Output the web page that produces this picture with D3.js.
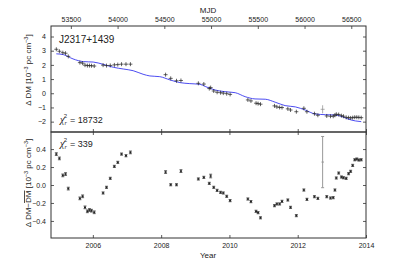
<!DOCTYPE html>
<html>
<head>
<meta charset="utf-8">
<script src="https://cdn.jsdelivr.net/npm/d3@7"></script>
<style>
  body { margin: 0; background: #fff; }
  text { font-family: "Liberation Sans", Arial, sans-serif; fill: #222; }
</style>
</head>
<body>
<svg id="chart" width="407" height="265"></svg>
<script>
// epochs (decimal year) of each DM measurement
var years = [2004.93, 2005.02, 2005.12, 2005.20, 2005.28, 2005.62, 2005.70, 2005.77, 2005.84, 2005.90,
             2005.96, 2006.04, 2006.30, 2006.40, 2006.51, 2006.63, 2006.73, 2006.84, 2006.97, 2007.10,
             2008.13, 2008.28, 2008.45, 2008.58, 2009.09, 2009.25, 2009.41, 2009.45, 2009.54, 2009.64,
             2009.74, 2009.82, 2009.92, 2010.02, 2010.54, 2010.63, 2010.78, 2010.84, 2010.91, 2011.32,
             2011.39, 2011.47, 2011.54, 2011.71, 2011.79, 2011.96, 2012.18, 2012.27, 2012.49, 2012.59,
             2012.73, 2012.85, 2012.96, 2013.04, 2013.09, 2013.13, 2013.20, 2013.28, 2013.34, 2013.42,
             2013.49, 2013.55, 2013.61, 2013.67, 2013.73, 2013.79, 2013.86];

// delta DM (10^-3 pc cm^-3), top panel
var dmValues = [3.10, 2.96, 2.86, 2.82, 2.60, 2.16, 2.12, 1.98, 1.95, 1.95,
                1.94, 1.92, 1.98, 1.95, 1.96, 2.00, 2.02, 2.05, 2.05, 2.05,
                1.31, 1.05, 0.88, 0.90, 0.70, 0.65, 0.33, 0.40, 0.16, 0.07,
                0.04, 0.01, -0.03, -0.08, -0.47, -0.54, -0.70, -0.73, -0.77, -0.89,
                -0.96, -1.00, -1.01, -1.10, -1.18, -1.30, -1.06, -1.30, -1.44, -1.55,
                -1.13, -1.60, -1.62, -1.62, -1.55, -1.48, -1.50, -1.58, -1.62, -1.70,
                -1.72, -1.74, -1.72, -1.69, -1.69, -1.70, -1.72];

// residuals delta DM - mean DM, bottom panel
var residuals = [0.344, 0.296, 0.107, 0.122, -0.040, -0.149, -0.126, -0.249, -0.293, -0.278,
                 -0.286, -0.304, -0.089, -0.026, 0.074, 0.207, 0.252, 0.344, 0.326, 0.363,
                 0.144, 0.003, 0.003, 0.155, 0.067, 0.085, 0.018, 0.100, -0.026, -0.060,
                 -0.082, -0.089, -0.126, -0.174, -0.156, -0.185, -0.293, -0.308, -0.365, -0.230,
                 -0.211, -0.211, -0.182, -0.167, -0.249, -0.341, -0.056, -0.160, -0.130, -0.149,
                 0.255, -0.130, -0.145, -0.141, -0.056, 0.078, 0.133, 0.089, 0.081, 0.074,
                 0.126, 0.152, 0.218, 0.281, 0.289, 0.278, 0.281];

var errors = [0.015, 0.015, 0.015, 0.015, 0.015, 0.015, 0.015, 0.015, 0.015, 0.015,
              0.015, 0.015, 0.012, 0.012, 0.012, 0.012, 0.012, 0.012, 0.012, 0.015,
              0.015, 0.012, 0.012, 0.015, 0.012, 0.012, 0.012, 0.02, 0.012, 0.012,
              0.012, 0.012, 0.012, 0.012, 0.012, 0.012, 0.012, 0.012, 0.012, 0.012,
              0.012, 0.012, 0.012, 0.012, 0.012, 0.012, 0.012, 0.012, 0.012, 0.012,
              0.285, 0.012, 0.012, 0.012, 0.012, 0.012, 0.012, 0.012, 0.012, 0.012,
              0.012, 0.012, 0.012, 0.012, 0.012, 0.012, 0.012];

// smooth DM model (blue curve)
var modelYears = [2004.93, 2005.14, 2005.42, 2005.72, 2006.01, 2006.30, 2006.60, 2006.89, 2007.18, 2007.47,
                  2007.67, 2007.96, 2008.26, 2008.55, 2008.84, 2009.14, 2009.29, 2009.58, 2009.87, 2010.17,
                  2010.46, 2010.75, 2011.05, 2011.34, 2011.63, 2011.93, 2012.22, 2012.51, 2012.81, 2013.10,
                  2013.30, 2013.49, 2013.69, 2013.86];
var modelDM = [2.78, 2.72, 2.42, 2.23, 2.20, 2.04, 1.83, 1.71, 1.59, 1.34,
               1.22, 1.17, 0.94, 0.75, 0.68, 0.63, 0.48, 0.23, 0.11, 0.04,
               -0.24, -0.40, -0.42, -0.63, -0.87, -0.96, -1.18, -1.46, -1.51, -1.53,
               -1.65, -1.83, -1.95, -2.0];

var mjdTicks = [53500, 54000, 54500, 55000, 55500, 56000, 56500];
var yearTicks = [2006, 2008, 2010, 2012, 2014];
var dmTicks = [-2, -1, 0, 1, 2, 3, 4];
var resTicks = [-0.4, -0.2, 0.0, 0.2, 0.4];

var svg = d3.select("#chart");
var left = 51, right = 366;
var topY0 = 26, midY = 132, botY1 = 238;

function yearToMjd(y) { return 51544 + (y - 2000) * 365.25; }

var x = d3.scaleLinear().domain([2004.774, 2014]).range([left, right]);
var xm = d3.scaleLinear().domain([yearToMjd(2004.774), yearToMjd(2014)]).range([left, right]);
var yTop = d3.scaleLinear().domain([-2.73, 4.74]).range([midY, topY0]);
var yBot = d3.scaleLinear().domain([-0.59, 0.59]).range([botY1, midY]);

var fmtMinus = function(s){ return String(s).replace("-", "\u2212"); };
var tl = 3;

// axes with inward ticks
function axes(g, yScale, yT, yFmt, y0, y1, topScale, topT, topLabels, bottomLabels) {
    g.append("g").attr("transform", "translate(" + left + ",0)")
        .call(d3.axisLeft(yScale).tickValues(yT).tickSizeInner(-tl).tickSizeOuter(0).tickPadding(5).tickFormat(yFmt));
    g.append("g").attr("transform", "translate(" + right + ",0)")
        .call(d3.axisRight(yScale).tickValues(yT).tickSizeInner(-tl).tickSizeOuter(0).tickFormat(""));
    g.append("g").attr("transform", "translate(0," + y0 + ")")
        .call(d3.axisTop(topScale).tickValues(topT).tickSizeInner(-tl).tickSizeOuter(0).tickPadding(4)
            .tickFormat(topLabels ? d3.format("d") : ""));
    g.append("g").attr("transform", "translate(0," + y1 + ")")
        .call(d3.axisBottom(x).tickValues(yearTicks).tickSizeInner(-tl).tickSizeOuter(0).tickPadding(5)
            .tickFormat(bottomLabels ? d3.format("d") : ""));
    g.selectAll(".domain").remove();
    g.selectAll(".tick line").attr("stroke", "#333").attr("stroke-width", 0.8);
    g.selectAll(".tick text").attr("font-size", 7).attr("fill", "#222")
        .attr("font-family", "Liberation Sans, Arial, sans-serif");
    g.append("rect").attr("x", left).attr("y", y0).attr("width", right - left).attr("height", y1 - y0)
        .attr("fill", "none").attr("stroke", "#333").attr("stroke-width", 1);
}

var gTop = svg.append("g");
axes(gTop, yTop, dmTicks, fmtMinus, topY0, midY, xm, mjdTicks, true, false);
var gBot = svg.append("g");
axes(gBot, yBot, resTicks, function(d){ return fmtMinus(d3.format(".1f")(d)); }, midY, botY1, x, yearTicks, false, true);

var idx = d3.range(years.length);

// top panel: model curve and points
var line = d3.line().curve(d3.curveMonotoneX)
    .x(function(d, i){ return x(modelYears[i]); })
    .y(function(d){ return yTop(d); });
gTop.append("path").datum(modelDM).attr("d", line)
    .attr("fill", "none").attr("stroke", "#3a3af0").attr("stroke-width", 1).attr("stroke-opacity", 0.9);

var ptTop = gTop.selectAll("g.pt").data(idx).enter().append("g").attr("class", "pt")
    .attr("stroke", function(i){ return errors[i] > 0.1 ? "#888" : "#222"; })
    .attr("stroke-width", 0.7);
ptTop.append("line")
    .attr("x1", function(i){ return x(years[i]); }).attr("x2", function(i){ return x(years[i]); })
    .attr("y1", function(i){ return Math.min(yTop(dmValues[i] + errors[i]), yTop(dmValues[i]) - 2); })
    .attr("y2", function(i){ return Math.max(yTop(dmValues[i] - errors[i]), yTop(dmValues[i]) + 2); });
ptTop.append("line")
    .attr("x1", function(i){ return x(years[i]) - 2; }).attr("x2", function(i){ return x(years[i]) + 2; })
    .attr("y1", function(i){ return yTop(dmValues[i]); }).attr("y2", function(i){ return yTop(dmValues[i]); });

// bottom panel: residual points with error bars
var ptBot = gBot.selectAll("g.pt").data(idx).enter().append("g").attr("class", "pt")
    .attr("stroke", function(i){ return errors[i] > 0.1 ? "#999" : "#222"; })
    .attr("stroke-width", function(i){ return errors[i] > 0.1 ? 1 : 0.7; });
ptBot.append("line")
    .attr("x1", function(i){ return x(years[i]); }).attr("x2", function(i){ return x(years[i]); })
    .attr("y1", function(i){ return yBot(residuals[i] + errors[i]); })
    .attr("y2", function(i){ return yBot(residuals[i] - errors[i]); });
ptBot.selectAll("line.cap").data(function(i){ return [[i, 1], [i, -1]]; }).enter().append("line")
    .attr("class", "cap")
    .attr("x1", function(d){ return x(years[d[0]]) - 1.5; }).attr("x2", function(d){ return x(years[d[0]]) + 1.5; })
    .attr("y1", function(d){ return yBot(residuals[d[0]] + d[1] * errors[d[0]]); })
    .attr("y2", function(d){ return yBot(residuals[d[0]] + d[1] * errors[d[0]]); });
ptBot.append("line")
    .attr("x1", function(i){ return x(years[i]) - 1; }).attr("x2", function(i){ return x(years[i]) + 1; })
    .attr("y1", function(i){ return yBot(residuals[i]); }).attr("y2", function(i){ return yBot(residuals[i]); })
    .attr("stroke-width", 1.5);

// labels
svg.append("text").attr("x", 208).attr("y", 13).attr("text-anchor", "middle").attr("font-size", 8).text("MJD");
svg.append("text").attr("x", 208).attr("y", 258).attr("text-anchor", "middle").attr("font-size", 8).text("Year");
svg.append("text").attr("x", 59).attr("y", 43).attr("font-size", 10).text("J2317+1439");

function chi(yb, value) {
    var t = svg.append("text").attr("x", 60).attr("y", yb).attr("font-size", 9);
    t.append("tspan").attr("font-family", "Liberation Serif, serif").attr("font-style", "italic").attr("font-size", 10).text("\u03c7");
    t.append("tspan").attr("font-family", "Liberation Serif, serif").attr("font-style", "italic").attr("font-size", 6).attr("dy", 2).text("r");
    t.append("tspan").attr("font-size", 6).attr("dx", -3).attr("dy", -7).text("2");
    t.append("tspan").attr("dx", 3).attr("dy", 5).text("= " + value);
}
chi(123, "18732");
chi(147, "339");

function ylab(cy, parts) {
    var t = svg.append("text").attr("transform", "translate(31," + cy + ") rotate(-90)")
        .attr("text-anchor", "middle").attr("font-size", 8);
    parts.forEach(function(p){
        var s = t.append("tspan").text(p[0]);
        if (p[1] === "sup") s.attr("font-size", 5.5).attr("dy", -3);
        if (p[1] === "down") s.attr("dy", 3);
        if (p[1] === "over") s.attr("text-decoration", "overline");
    });
}
ylab(70, [["\u0394 DM [10"], ["\u22123", "sup"], [" pc cm", "down"], ["\u22123", "sup"], ["]", "down"]]);
ylab(183, [["\u0394 DM\u2212"], ["DM", "over"], [" [10"], ["\u22123", "sup"], [" pc cm", "down"], ["\u22123", "sup"], ["]", "down"]]);
</script>
</body>
</html>
